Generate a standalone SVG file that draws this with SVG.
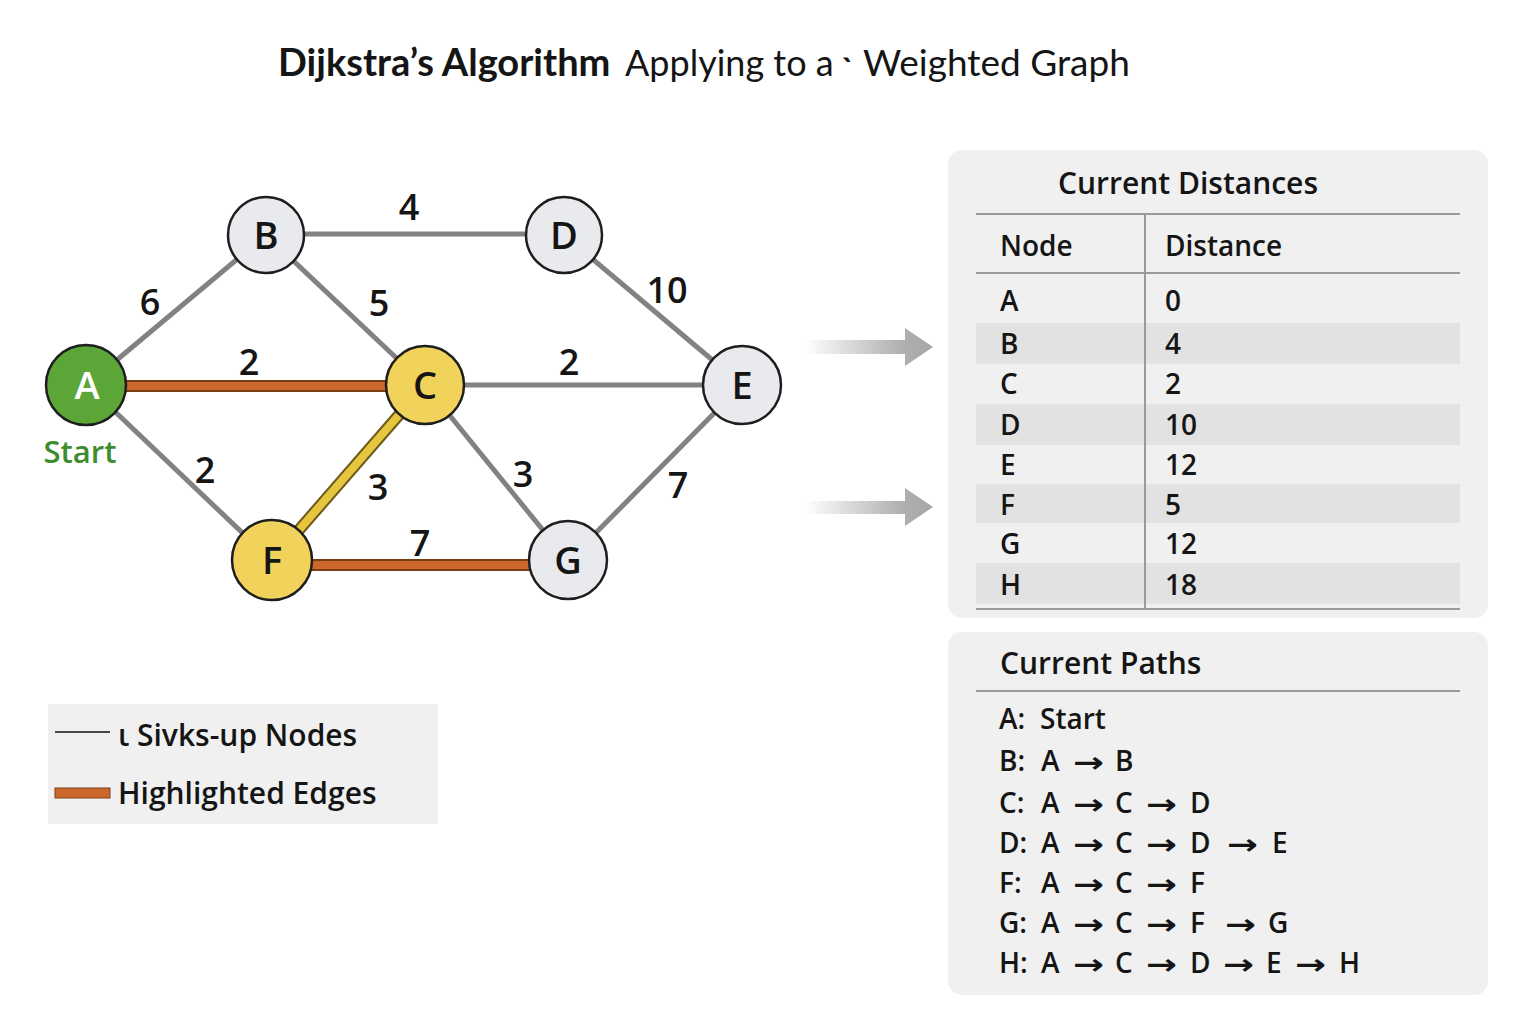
<svg xmlns="http://www.w3.org/2000/svg" width="1536" height="1024" viewBox="0 0 1536 1024">
<defs>
<style>
text{font-family:"Open Sans","Noto Sans","DejaVu Sans",sans-serif;fill:#151515}
.ttl{font-family:Lato,"Open Sans",sans-serif}
.node circle{stroke:#1e1e1e;stroke-width:2.5}
.node text{font-size:38px;font-weight:600;text-anchor:middle}
.gray circle{fill:#e9eaed}
.yel circle{fill:#f1d25a}
.edge{stroke:#828282;stroke-width:5;fill:none}
.hl-o{stroke:#7a3e16;stroke-width:12}
.hl-oi{stroke:#cc672b;stroke-width:8}
.hl-y{stroke:#6e5a18;stroke-width:12}
.hl-yi{stroke:#e6c53f;stroke-width:8}
.w{font-size:36px;font-weight:600;text-anchor:middle}
.panel{fill:#f0f0f0}
.rule{stroke:#9a9a9a;stroke-width:2}
.stripe{fill:#e2e2e2}
.ph{font-size:30px;font-weight:600}
.td{font-size:28px;font-weight:600}
.arr{font-family:"DejaVu Sans",sans-serif;font-size:28px;font-weight:700}
</style>
<linearGradient id="ag" x1="0" y1="0" x2="1" y2="0">
<stop offset="0" stop-color="#ffffff"/>
<stop offset="0.75" stop-color="#b0b0b0"/>
<stop offset="1" stop-color="#a6a6a6"/>
</linearGradient>
</defs>
<rect width="1536" height="1024" fill="#ffffff"/>

<g id="title">
<text x="278" y="76" class="ttl" font-size="38" font-weight="700">Dijkstra’s Algorithm</text>
<text x="625" y="76" class="ttl" font-size="36">Applying to a</text>
<text x="842" y="80" class="ttl" font-size="30" font-weight="900">ˋ</text>
<text x="863" y="76" class="ttl" font-size="37">Weighted Graph</text>
</g>

<g id="connectors">
<line class="edge" x1="87" y1="385" x2="266" y2="235"/>
<line class="edge" x1="266" y1="234" x2="564" y2="234"/>
<line class="edge" x1="266" y1="235" x2="425" y2="385"/>
<line class="edge" x1="564" y1="235" x2="742" y2="385"/>
<line class="edge" x1="425" y1="385" x2="742" y2="385"/>
<line class="edge" x1="87" y1="385" x2="272" y2="561"/>
<line class="edge" x1="425" y1="385" x2="568" y2="561"/>
<line class="edge" x1="568" y1="561" x2="742" y2="385"/>
<line class="hl-o" x1="87" y1="386" x2="425" y2="386"/>
<line class="hl-oi" x1="87" y1="386" x2="425" y2="386"/>
<line class="hl-o" x1="272" y1="565" x2="568" y2="565"/>
<line class="hl-oi" x1="272" y1="565" x2="568" y2="565"/>
<line class="hl-y" x1="272" y1="561" x2="425" y2="385"/>
<line class="hl-yi" x1="272" y1="561" x2="425" y2="385"/>
<text class="w" x="150" y="315">6</text>
<text class="w" x="409" y="220">4</text>
<text class="w" x="379" y="316">5</text>
<text class="w" x="249" y="375">2</text>
<text class="w" x="569" y="375">2</text>
<text class="w" x="667" y="303">10</text>
<text class="w" x="205" y="483">2</text>
<text class="w" x="378" y="500">3</text>
<text class="w" x="523" y="487">3</text>
<text class="w" x="420" y="556">7</text>
<text class="w" x="678" y="498">7</text>
</g>

<g id="node-A" class="node"><circle cx="86" cy="385" r="40" fill="#5ca537"/><text x="87" y="399" style="fill:#ffffff">A</text></g>
<g id="node-B" class="node gray"><circle cx="266" cy="235" r="38"/><text x="266" y="249">B</text></g>
<g id="node-D" class="node gray"><circle cx="564" cy="235" r="38"/><text x="564" y="249">D</text></g>
<g id="node-C" class="node yel"><circle cx="425" cy="385" r="39"/><text x="425" y="399">C</text></g>
<g id="node-E" class="node gray"><circle cx="742" cy="385" r="39"/><text x="742" y="399">E</text></g>
<g id="node-F" class="node yel"><circle cx="272" cy="560" r="40"/><text x="272" y="574">F</text></g>
<g id="node-G" class="node gray"><circle cx="568" cy="560" r="39"/><text x="568" y="574">G</text></g>
<text id="start-label" x="80" y="463" font-size="31" font-weight="600" text-anchor="middle" style="fill:#3d8c2e">Start</text>

<g id="legend">
<rect x="48" y="704" width="390" height="120" fill="#f0f0f0"/>
<line x1="55" y1="732" x2="110" y2="732" stroke="#111" stroke-width="1.5"/>
<text x="118" y="746" font-size="30" font-weight="600">ι Sivks-up Nodes</text>
<rect x="55" y="788" width="55" height="10" fill="#cc672b" stroke="#7a3e16" stroke-width="1"/>
<text x="118" y="804" font-size="30" font-weight="600">Highlighted Edges</text>
</g>

<g id="flow-arrows">
<path d="M805 340 H905 V328 L933 347 L905 366 V354 H805 Z" fill="url(#ag)"/>
<path d="M805 501 H905 V488 L933 507 L905 526 V514 H805 Z" fill="url(#ag)"/>
</g>

<g id="distances-panel">
<rect class="panel" x="948" y="150" width="540" height="468" rx="14"/>
<text class="ph" x="1188" y="194" text-anchor="middle">Current Distances</text>
<line class="rule" x1="976" y1="214" x2="1460" y2="214"/>
<rect class="stripe" x="976" y="323" width="484" height="41"/>
<rect class="stripe" x="976" y="404" width="484" height="41"/>
<rect class="stripe" x="976" y="484" width="484" height="39"/>
<rect class="stripe" x="976" y="563" width="484" height="41"/>
<line class="rule" x1="976" y1="273" x2="1460" y2="273"/>
<line class="rule" x1="976" y1="609" x2="1460" y2="609"/>
<line class="rule" x1="1145" y1="214" x2="1145" y2="609"/>
<text class="td" x="1000" y="256">Node</text>
<text class="td" x="1165" y="256">Distance</text>
<text class="td" x="1000" y="311">A</text><text class="td" x="1165" y="311">0</text>
<text class="td" x="1000" y="354">B</text><text class="td" x="1165" y="354">4</text>
<text class="td" x="1000" y="394">C</text><text class="td" x="1165" y="394">2</text>
<text class="td" x="1000" y="435">D</text><text class="td" x="1165" y="435">10</text>
<text class="td" x="1000" y="475">E</text><text class="td" x="1165" y="475">12</text>
<text class="td" x="1000" y="515">F</text><text class="td" x="1165" y="515">5</text>
<text class="td" x="1000" y="554">G</text><text class="td" x="1165" y="554">12</text>
<text class="td" x="1000" y="595">H</text><text class="td" x="1165" y="595">18</text>
</g>

<g id="paths-panel">
<rect class="panel" x="948" y="632" width="540" height="363" rx="14"/>
<text class="ph" x="1000" y="674">Current Paths</text>
<line class="rule" x1="976" y1="691" x2="1460" y2="691"/>
<text class="td" y="729"><tspan x="999">A:</tspan><tspan x="1040">Start</tspan></text>
<text class="td" y="771"><tspan x="999">B:</tspan><tspan x="1041">A</tspan><tspan x="1115">B</tspan></text>
<text class="td" y="813"><tspan x="999">C:</tspan><tspan x="1041">A</tspan><tspan x="1115">C</tspan><tspan x="1190">D</tspan></text>
<text class="td" y="853"><tspan x="999">D:</tspan><tspan x="1041">A</tspan><tspan x="1115">C</tspan><tspan x="1190">D</tspan><tspan x="1272">E</tspan></text>
<text class="td" y="893"><tspan x="999">F:</tspan><tspan x="1041">A</tspan><tspan x="1115">C</tspan><tspan x="1190">F</tspan></text>
<text class="td" y="933"><tspan x="999">G:</tspan><tspan x="1041">A</tspan><tspan x="1115">C</tspan><tspan x="1190">F</tspan><tspan x="1268">G</tspan></text>
<text class="td" y="973"><tspan x="999">H:</tspan><tspan x="1041">A</tspan><tspan x="1115">C</tspan><tspan x="1190">D</tspan><tspan x="1266">E</tspan><tspan x="1339">H</tspan></text>
<text class="arr" x="1073" y="772" textLength="31" lengthAdjust="spacingAndGlyphs">→</text>
<text class="arr" x="1073" y="814" textLength="31" lengthAdjust="spacingAndGlyphs">→</text>
<text class="arr" x="1146" y="814" textLength="31" lengthAdjust="spacingAndGlyphs">→</text>
<text class="arr" x="1073" y="854" textLength="31" lengthAdjust="spacingAndGlyphs">→</text>
<text class="arr" x="1146" y="854" textLength="31" lengthAdjust="spacingAndGlyphs">→</text>
<text class="arr" x="1227" y="854" textLength="31" lengthAdjust="spacingAndGlyphs">→</text>
<text class="arr" x="1073" y="894" textLength="31" lengthAdjust="spacingAndGlyphs">→</text>
<text class="arr" x="1146" y="894" textLength="31" lengthAdjust="spacingAndGlyphs">→</text>
<text class="arr" x="1073" y="934" textLength="31" lengthAdjust="spacingAndGlyphs">→</text>
<text class="arr" x="1146" y="934" textLength="31" lengthAdjust="spacingAndGlyphs">→</text>
<text class="arr" x="1225" y="934" textLength="31" lengthAdjust="spacingAndGlyphs">→</text>
<text class="arr" x="1073" y="974" textLength="31" lengthAdjust="spacingAndGlyphs">→</text>
<text class="arr" x="1146" y="974" textLength="31" lengthAdjust="spacingAndGlyphs">→</text>
<text class="arr" x="1223" y="974" textLength="31" lengthAdjust="spacingAndGlyphs">→</text>
<text class="arr" x="1295" y="974" textLength="31" lengthAdjust="spacingAndGlyphs">→</text>
</g>
</svg>
